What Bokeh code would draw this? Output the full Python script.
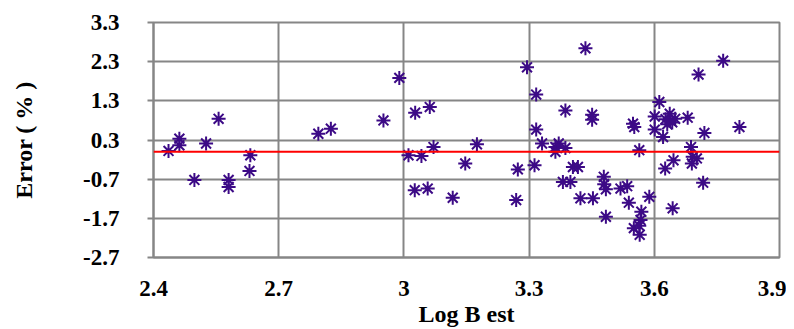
from bokeh.plotting import figure
from bokeh.models import FixedTicker, Span
from bokeh.embed import file_html
from bokeh.resources import INLINE

# Data
log_b_est = [
    2.436, 2.462, 2.462, 2.526, 2.556, 2.498, 2.580, 2.580, 2.632, 2.630,
    2.795, 2.825, 2.951, 2.989, 3.027, 3.062, 3.011, 3.042, 3.071, 3.026,
    3.057, 3.117, 3.147, 3.175, 3.295, 3.317, 3.317, 3.331, 3.273, 3.269,
    3.313, 3.387, 3.363, 3.371, 3.387, 3.363, 3.381, 3.399, 3.405, 3.417,
    3.423, 3.453, 3.435, 3.451, 3.451, 3.479, 3.480, 3.484, 3.484, 3.519,
    3.535, 3.539, 3.549, 3.552, 3.564, 3.569, 3.567, 3.551, 3.565, 3.564,
    3.588, 3.612, 3.601, 3.601, 3.621, 3.637, 3.638, 3.631, 3.650, 3.680,
    3.626, 3.646, 3.644, 3.688, 3.692, 3.690, 3.702, 3.717, 3.720, 3.706,
    3.765, 3.804, 3.643, 3.627,
]
error_pct = [
    0.02, 0.335, 0.165, 0.21, 0.84, -0.72, -0.72, -0.90, -0.09, -0.49,
    0.46, 0.59, 0.80, 1.886, 0.996, 1.14, -0.09, -0.107, 0.12, -0.98,
    -0.94, -1.175, -0.30, 0.19, 2.156, 1.46, 0.565, 0.21, -0.45, -1.233,
    -0.344, 1.055, 0.12, 0.21, 0.096, 0.0, -0.77, -0.77, -0.39, -0.39,
    -1.19, -1.19, 2.64, 0.946, 0.82, -0.64, -0.83, -0.96, -1.66, -0.94,
    -0.88, -1.30, 0.717, 0.63, 0.04, -1.53, -1.74, -1.95, -2.12, -1.89,
    -1.15, 1.27, 0.90, 0.565, 0.376, 0.97, 0.80, 0.70, 0.84, 0.87,
    -0.43, -0.22, -1.445, 0.12, -0.13, -0.30, -0.17, -0.79, 0.48, 1.97,
    2.326, 0.63, 0.75, 0.83,
]

x_ticks = [2.4, 2.7, 3.0, 3.3, 3.6, 3.9]
x_tick_labels = ["2.4", "2.7", "3", "3.3", "3.6", "3.9"]
y_ticks = [-2.7, -1.7, -0.7, 0.3, 1.3, 2.3, 3.3]
y_tick_labels = ["-2.7", "-1.7", "-0.7", "0.3", "1.3", "2.3", "3.3"]
reference_level = 0.0

FONT = "Liberation Serif"
GRID = "#868686"

p = figure(
    width=786, height=329,
    x_range=(2.4, 3.9), y_range=(-2.7, 3.3),
    output_backend="svg", toolbar_location=None,
    min_border_left=153, min_border_right=7,
    min_border_top=22, min_border_bottom=71,
    background_fill_color="white", border_fill_color="white",
)
p.outline_line_color = GRID
p.outline_line_width = 2

p.xaxis.ticker = FixedTicker(ticks=x_ticks)
p.yaxis.ticker = FixedTicker(ticks=y_ticks)
p.xaxis.major_label_overrides = dict(zip(x_ticks, x_tick_labels))
p.yaxis.major_label_overrides = dict(zip(y_ticks, y_tick_labels))

for ax in (p.xaxis, p.yaxis):
    ax.axis_line_color = GRID
    ax.axis_line_width = 2
    ax.major_tick_line_color = GRID
    ax.major_tick_line_width = 2
    ax.minor_tick_line_color = None
    ax.major_tick_in = 0
    ax.major_label_text_font = FONT
    ax.major_label_text_font_style = "bold"
    ax.major_label_text_font_size = "23px"
    ax.major_label_text_color = "black"
    ax.axis_label_text_font = FONT
    ax.axis_label_text_font_style = "bold"
    ax.axis_label_text_font_size = "24px"
    ax.axis_label_text_color = "black"

p.xaxis.major_tick_out = 0
p.xaxis.major_label_standoff = 23
p.xaxis.axis_label = "Log B est"
p.xaxis.axis_label_standoff = 2
p.yaxis.major_tick_out = 6
p.yaxis.major_label_standoff = 28
p.yaxis.axis_label = "Error ( % )"
p.yaxis.axis_label_standoff = 43

p.grid.grid_line_color = GRID
p.grid.grid_line_width = 2
p.grid.grid_line_alpha = 1.0

p.add_layout(Span(location=reference_level, dimension="width",
                  line_color="red", line_width=2))

p.scatter(log_b_est, error_pct, marker="asterisk", size=14,
          line_color="#3c0a86", line_width=2)

open("out.html", "w").write(file_html(p, INLINE))
